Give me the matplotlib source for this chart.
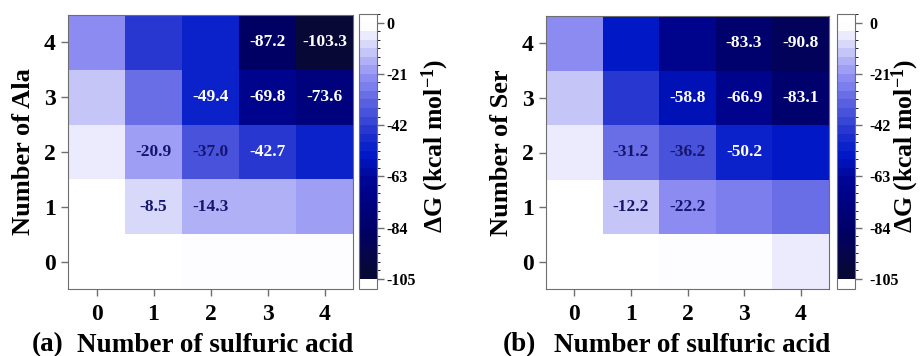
import numpy as np
import matplotlib
matplotlib.use("Agg")
import matplotlib.pyplot as plt
from matplotlib.colors import LinearSegmentedColormap, BoundaryNorm
from matplotlib.cm import ScalarMappable

plt.rcParams['font.family'] = ['Liberation Serif', 'DejaVu Serif']
plt.rcParams['font.weight'] = 'bold'
plt.rcParams['mathtext.fontset'] = 'custom'
plt.rcParams['mathtext.rm'] = 'Liberation Serif:bold'
plt.rcParams['mathtext.it'] = 'Liberation Serif:bold'
plt.rcParams['mathtext.bf'] = 'Liberation Serif:bold'

# Data: rows = number of amino acid (0..4), cols = number of sulfuric acid (0..4)
n_acid = [0, 1, 2, 3, 4]
n_amino = [0, 1, 2, 3, 4]

ala_dG = [
    [0.0, 0.0, -2.0, -2.0, -2.0],
    [0.0, -8.5, -14.3, -17.0, -20.0],
    [-5.0, -20.9, -37.0, -42.7, -52.0],
    [-12.0, -31.0, -49.4, -69.8, -73.6],
    [-22.0, -45.0, -52.0, -87.2, -103.3],
]
ala_labeled = [
    [0, 0, 0, 0, 0],
    [0, 1, 1, 0, 0],
    [0, 1, 1, 1, 0],
    [0, 0, 1, 1, 1],
    [0, 0, 0, 1, 1],
]
ser_dG = [
    [0.0, 0.0, -2.0, -2.0, -5.0],
    [0.0, -12.2, -22.2, -26.0, -29.0],
    [-5.0, -31.2, -36.2, -50.2, -55.0],
    [-13.0, -43.0, -58.8, -66.9, -83.1],
    [-22.0, -53.0, -70.0, -83.3, -90.8],
]
ser_labeled = [
    [0, 0, 0, 0, 0],
    [0, 1, 1, 0, 0],
    [0, 1, 1, 1, 0],
    [0, 0, 1, 1, 1],
    [0, 0, 0, 1, 1],
]
cbar_ticks = [0, -21, -42, -63, -84, -105]

# colormap
anchors = [
    (-105, (10, 10, 45)),
    (-84, (0, 0, 100)),
    (-63, (0, 5, 150)),
    (-52, (0, 25, 200)),
    (-42, (40, 55, 208)),
    (-21, (140, 140, 242)),
    (0, (255, 255, 255)),
    (3.5, (255, 255, 255)),
]
vmin, vmax = -105, 3.5
cmap = LinearSegmentedColormap.from_list(
    'wb', [((v - vmin) / (vmax - vmin), tuple(c / 255 for c in col)) for v, col in anchors])
cmap.set_under('white')
levels = np.linspace(vmin, vmax, 32)
norm = BoundaryNorm(levels, cmap.N, extend='min')

W, H = 922, 356
fig = plt.figure(figsize=(W / 100, H / 100), dpi=100)

spine_col = '#6e6e6e'


def panel(ax_px, cax_px, data, labeled, ylabel, tag, tag_x, cb_pad, cb_label_x):
    l, r, t, b = ax_px
    ax = fig.add_axes([l / W, 1 - b / H, (r - l) / W, (b - t) / H])
    cl, cr, ct, cb = cax_px
    cax = fig.add_axes([cl / W, 1 - cb / H, (cr - cl) / W, (cb - ct) / H])
    arr = np.array(data)
    ax.pcolormesh(np.arange(-0.5, 5, 1), np.arange(-0.5, 5, 1), arr, cmap=cmap, norm=norm)
    for i in range(5):
        for j in range(5):
            if labeled[i][j]:
                v = arr[i, j]
                col = 'white' if v < -40 else '#15156e'
                ax.text(j, i, f"{v:.1f}", ha='center', va='center', color=col,
                        fontsize=12.5, fontweight='bold')
    ax.set_xlim(-0.5, 4.5)
    ax.set_ylim(-0.5, 4.5)
    ax.set_xticks(n_acid)
    ax.set_yticks(n_amino)
    ax.set_xticklabels([str(v) for v in n_acid])
    ax.set_yticklabels([str(v) for v in n_amino])
    ax.tick_params(direction='out', length=5, width=1, color=spine_col, labelsize=17)
    ax.tick_params(axis='x', pad=6)
    ax.tick_params(axis='y', pad=4)
    for s in ax.spines.values():
        s.set_color(spine_col)
    ax.set_ylabel(ylabel, fontsize=19, fontweight='bold', labelpad=6)
    ax.set_xlabel('Number of sulfuric acid', fontsize=19.5, fontweight='bold')
    ax.xaxis.set_label_coords(0.5 + 5 / (r - l), -(345 - b) / (b - t))
    ax.xaxis.label.set_va('center')
    fig.text(tag_x / W, 1 - 345 / H, tag, fontsize=19.5, fontweight='bold', va='center', ha='left')

    cb_ = fig.colorbar(ScalarMappable(norm=norm, cmap=cmap), cax=cax, extend='min',
                       extendrect=True, extendfrac=0.038, ticks=cbar_ticks, drawedges=False)
    cb_.outline.set_edgecolor(spine_col)
    cb_.ax.tick_params(direction='out', length=5, width=1, color=spine_col, labelsize=11.5, pad=cb_pad)
    cb_.ax.set_yticklabels([str(t) for t in cbar_ticks])
    fig.text(cb_label_x / W, 1 - 146 / H, r'ΔG (kcal mol$^{-1}$)', rotation=90,
             fontsize=18.5, fontweight='bold', ha='center', va='center')
    return ax


panel((68, 353, 15, 289), (359, 377, 14, 289), ala_dG, ala_labeled, 'Number of Ala', '(a)', 32, 2, 435)
panel((546, 829, 16, 289), (837, 855, 14, 289), ser_dG, ser_labeled, 'Number of Ser', '(b)', 503, 5, 905)

fig.savefig('out.png', dpi=100)
